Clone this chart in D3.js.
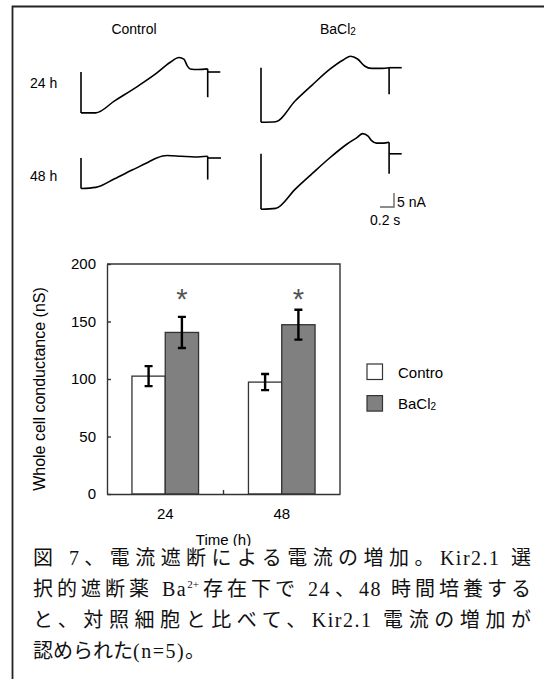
<!DOCTYPE html>
<html>
<head>
<meta charset="utf-8">
<script src="https://cdn.jsdelivr.net/npm/d3@7"></script>
<style>
  body { margin: 0; background: #fff; }
  svg { display: block; }
  #caption {
    position: absolute; left: 33px; top: 543px; width: 498px;
    font-family: "Liberation Serif", "Noto Sans CJK JP", serif;
    font-size: 20px; line-height: 31px; color: #111;
  }
  #caption div { text-align: justify; text-align-last: justify; white-space: nowrap; }
  #caption div.last { text-align: left; text-align-last: left; }
  #caption .lat { font-family: "Liberation Serif", serif; letter-spacing: 1.5px; }
  #caption sup { font-size: 11px; line-height: 0; letter-spacing: 0; }
</style>
</head>
<body>
<div id="caption"></div>
<script>
// bar chart data
const categories = ["24", "48"];
const seriesNames = ["Contro", "BaCl2"];
const controlMean = [102.5, 97.3];
const controlErr = [8.7, 7.0];
const bacl2Mean = [140.5, 147.2];
const bacl2Err = [13.5, 13.0];
const starValue = [174, 174];
const yTicks = [0, 50, 100, 150, 200];

// current traces, [time (s), current (nA)] relative to holding level
const ctl24 = [[0.21, -14.6], [0.48, -10.3], [0.83, -4.75], [1.08, -0.4], [1.27, 3.4], [1.40, 5.2], [1.47, 4.6], [1.52, 2.1], [1.56, 1.1], [1.67, 0.9], [1.81, 1.1]];
const ba24 = [[0.21, -19.3], [0.49, -11.8], [0.73, -6.2], [0.98, -0.6], [1.18, 2.85], [1.28, 4.1], [1.38, 3.1], [1.48, 0.6], [1.58, -0.25], [1.73, -0.25], [1.83, 0]];
const ctl48 = [[0.21, -10.5], [0.48, -7.4], [0.73, -4.3], [0.93, -1.9], [1.08, 0], [1.23, 0.87], [1.43, 0.62], [1.63, 0.37], [1.81, 0.62]];
const ba48 = [[0.21, -19.5], [0.49, -12.6], [0.73, -7.1], [0.98, -1.5], [1.23, 3.5], [1.38, 5.95], [1.45, 7.2], [1.53, 6.3], [1.58, 4.7], [1.65, 3.8], [1.75, 3.8], [1.83, 4.1]];
// initial step bottom, spike bottom, tail end time
const ctl24Step = [-14.6, -9.0, 1.99];
const ba24Step = [-19.5, -9.5, 2.01];
const ctl48Step = [-10.9, -7.7, 2.0];
const ba48Step = [-19.8, -7.1, 2.01];

// caption lines
const captionLines = [
  '図 7、電流遮断による電流の増加。<span class="lat">Kir2.1</span> 選',
  '択的遮断薬 <span class="lat">Ba<sup>2+</sup></span>存在下で <span class="lat">24</span>、<span class="lat">48</span> 時間培養する',
  'と、対照細胞と比べて、<span class="lat">Kir2.1</span> 電流の増加が',
  '認められた<span class="lat">(n=5)</span>。'
];

const W = 544, H = 679;
const svg = d3.select("body").insert("svg", "#caption").attr("width", W).attr("height", H);
const font = "'Liberation Sans', Arial, sans-serif";

// outer frame
svg.append("path")
  .attr("d", `M12.5,${H} L12.5,6.5 L${W},6.5`)
  .attr("fill", "none").attr("stroke", "#222").attr("stroke-width", 1.8);

// ---------- traces ----------
const tScale = d3.scaleLinear().domain([0, 1]).range([0, 70]);
const iScale = d3.scaleLinear().domain([0, 1]).range([0, -2.8]);

function drawTrace(x0, y0, pts, step) {
  const g = svg.append("g").attr("transform", `translate(${x0},${y0})`);
  const line = d3.line().x(d => tScale(d[0])).y(d => iScale(d[1]));
  const last = pts[pts.length - 1];
  // step down at start
  g.append("path").attr("d", line([[0, 0], [0, step[0]]]));
  g.append("path").attr("d", line.curve(d3.curveMonotoneX)([[0, step[0]]].concat(pts)));
  // spike and tail at the end
  const seg = d3.line().x(d => tScale(d[0])).y(d => iScale(d[1]));
  g.append("path").attr("d", seg([[last[0], last[1]], [last[0], step[1]]]));
  g.append("path").attr("d", seg([[last[0], 0], [step[2], 0]]));
  g.selectAll("path").attr("fill", "none").attr("stroke", "#000").attr("stroke-width", 1.6);
}
drawTrace(81, 72, ctl24, ctl24Step);
drawTrace(261, 67.7, ba24, ba24Step);
drawTrace(81, 158, ctl48, ctl48Step);
drawTrace(261, 153.8, ba48, ba48Step);

svg.append("text").attr("x", 134).attr("y", 34).attr("text-anchor", "middle")
  .attr("font-family", font).attr("font-size", 14).text("Control");
const bt = svg.append("text").attr("x", 320).attr("y", 34)
  .attr("font-family", font).attr("font-size", 14);
bt.append("tspan").text("BaCl");
bt.append("tspan").attr("font-size", 10).attr("dy", 1).text("2");
svg.append("text").attr("x", 30).attr("y", 88).attr("font-family", font).attr("font-size", 14).text("24 h");
svg.append("text").attr("x", 30).attr("y", 181).attr("font-family", font).attr("font-size", 14).text("48 h");

// scale bar: 0.2 s, 5 nA
const sbx = 394, sby = 207;
svg.append("path")
  .attr("d", `M${sbx - tScale(0.2)},${sby} L${sbx},${sby} L${sbx},${sby + iScale(5)}`)
  .attr("fill", "none").attr("stroke", "#666").attr("stroke-width", 1.4);
svg.append("text").attr("x", 397).attr("y", 207).attr("font-family", font).attr("font-size", 14).text("5 nA");
svg.append("text").attr("x", 370).attr("y", 225).attr("font-family", font).attr("font-size", 14).text("0.2 s");

// ---------- bar chart ----------
const px0 = 107, px1 = 340, py0 = 264, py1 = 494;
const x = d3.scaleBand().domain(categories).range([px0, px1]).paddingInner(0).paddingOuter(0);
const xs = d3.scaleBand().domain(seriesNames).range([0, 66.6]);
const y = d3.scaleLinear().domain([0, 200]).range([py1, py0]);

const rows = categories.map((c, i) => [
  { cat: c, s: seriesNames[0], v: controlMean[i], e: controlErr[i], fill: "#fff" },
  { cat: c, s: seriesNames[1], v: bacl2Mean[i], e: bacl2Err[i], fill: "#808080" }
]).flat();
const bx = d => x(d.cat) + (x.bandwidth() - 66.6) / 2 + xs(d.s);

svg.append("g").selectAll("rect").data(rows).join("rect")
  .attr("x", bx).attr("y", d => y(d.v))
  .attr("width", xs.bandwidth()).attr("height", d => y(0) - y(d.v))
  .attr("fill", d => d.fill).attr("stroke", "#333").attr("stroke-width", 1.3);

// error bars
const eg = svg.append("g").attr("stroke", "#000").attr("stroke-width", 2.4).attr("fill", "none");
rows.forEach(d => {
  const cx = bx(d) + xs.bandwidth() / 2;
  eg.append("path").attr("d",
    `M${cx},${y(d.v + d.e)} L${cx},${y(d.v - d.e)} M${cx - 4},${y(d.v + d.e)} L${cx + 4},${y(d.v + d.e)} M${cx - 4},${y(d.v - d.e)} L${cx + 4},${y(d.v - d.e)}`);
});

// significance stars
svg.append("g").selectAll("text").data(categories).join("text")
  .attr("x", (c, i) => bx(rows[i * 2 + 1]) + xs.bandwidth() / 2)
  .attr("y", (c, i) => y(starValue[i]) + 15)
  .attr("text-anchor", "middle").attr("font-family", font).attr("font-size", 29)
  .attr("fill", "#555").text("*");

// frame top/right
svg.append("path").attr("d", `M${px0},${py0} L${px1},${py0} L${px1},${py1}`)
  .attr("fill", "none").attr("stroke", "#333").attr("stroke-width", 1.4);

const yAxis = svg.append("g").attr("transform", `translate(${px0},0)`)
  .call(d3.axisLeft(y).tickValues(yTicks).tickSizeInner(-4).tickSizeOuter(0).tickPadding(11));
const xAxis = svg.append("g").attr("transform", `translate(0,${py1})`)
  .call(d3.axisBottom(x).tickSize(0).tickPadding(14));
// category boundary tick
xAxis.append("line").attr("x1", x("48")).attr("x2", x("48")).attr("y1", 0).attr("y2", -4);
[yAxis, xAxis].forEach(a => {
  a.selectAll("path, line").attr("stroke", "#333").attr("stroke-width", 1.4);
  a.selectAll("text").attr("font-family", font).attr("font-size", 15).attr("fill", "#000");
});

svg.append("text").attr("transform", `translate(45,389) rotate(-90)`)
  .attr("text-anchor", "middle").attr("font-family", font).attr("font-size", 16)
  .text("Whole cell conductance (nS)");
svg.append("text").attr("x", (px0 + px1) / 2).attr("y", 545).attr("text-anchor", "middle")
  .attr("font-family", font).attr("font-size", 15).text("Time (h)");

// legend
const lg = svg.append("g").selectAll("g").data(seriesNames).join("g")
  .attr("transform", (d, i) => `translate(367,${364 + i * 31.6})`);
lg.append("rect").attr("width", 15.5).attr("height", 15.5)
  .attr("fill", (d, i) => i === 0 ? "#fff" : "#808080").attr("stroke", "#333").attr("stroke-width", 1.2);
const lt = lg.append("text").attr("x", 31).attr("y", 13.5).attr("font-family", font).attr("font-size", 15);
lt.append("tspan").text(d => d === "BaCl2" ? "BaCl" : d);
lt.filter(d => d === "BaCl2").append("tspan").attr("font-size", 10).attr("dy", 1).text("2");

// caption background cuts the axis title like in the source figure
svg.append("rect").attr("x", 14).attr("y", 546).attr("width", W - 14).attr("height", H - 546).attr("fill", "#fff");
d3.select("#caption").selectAll("div").data(captionLines).join("div")
  .classed("last", (d, i) => i === captionLines.length - 1)
  .html(d => d);
</script>
</body>
</html>
